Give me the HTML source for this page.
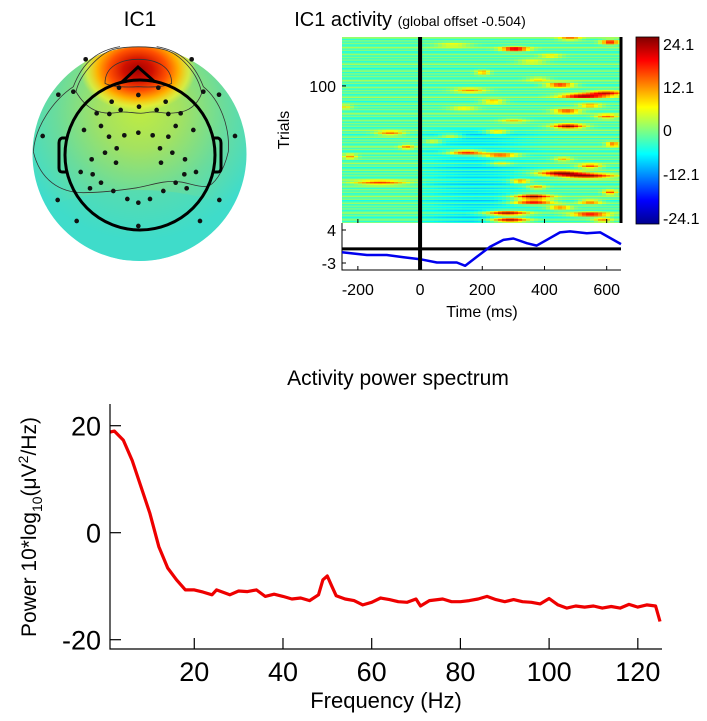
<!DOCTYPE html>
<html><head><meta charset="utf-8"><style>
html,body{margin:0;padding:0;background:#fff;}
svg{display:block;font-family:"Liberation Sans",Arial,sans-serif;}
</style></head><body>
<svg id="fig" width="707" height="721" viewBox="0 0 707 721">
<defs>
<radialGradient id="scalpBase" cx="140" cy="110" r="130" gradientUnits="userSpaceOnUse">
<stop offset="0" stop-color="#c0ec40"/><stop offset="0.3" stop-color="#a4e260"/><stop offset="0.65" stop-color="#6adc9c"/><stop offset="1" stop-color="#3edccc"/>
</radialGradient>
<radialGradient id="redBlob" cx="138" cy="70" r="58" gradientUnits="userSpaceOnUse" gradientTransform="translate(138 70) scale(1 0.72) translate(-138 -70)">
<stop offset="0" stop-color="#a00000"/><stop offset="0.25" stop-color="#d01000"/><stop offset="0.5" stop-color="#ff5000"/><stop offset="0.7" stop-color="#ffb000"/><stop offset="0.88" stop-color="#f0f030" stop-opacity="0.7"/><stop offset="1" stop-color="#f0f030" stop-opacity="0"/>
</radialGradient>
<linearGradient id="jet" x1="0" y1="1" x2="0" y2="0">
<stop offset="0" stop-color="#00008f"/><stop offset="0.125" stop-color="#0000ff"/><stop offset="0.375" stop-color="#00ffff"/><stop offset="0.5" stop-color="#80ff80"/><stop offset="0.625" stop-color="#ffff00"/><stop offset="0.875" stop-color="#ff0000"/><stop offset="1" stop-color="#800000"/>
</linearGradient>
<clipPath id="discClip"><circle cx="139.5" cy="154" r="107"/></clipPath>
</defs>

<!-- Topomap -->
<text x="140" y="26" font-size="21" text-anchor="middle">IC1</text>
<g>
<circle cx="139.5" cy="154" r="107" fill="url(#scalpBase)"/>
<g clip-path="url(#discClip)">
<ellipse cx="139.5" cy="250" rx="130" ry="60" fill="#40dcc8" opacity="0.5"/>
<ellipse cx="138" cy="72" rx="65" ry="48" fill="url(#redBlob)"/>
</g>
<g transform="scale(0.33333)" fill="none" stroke="#333" stroke-width="2.4">
<path d="M228,275 C240,220 300,160 340,148 C380,138 450,138 490,148 C540,160 595,220 605,280 C590,320 560,335 530,338 C490,345 470,330 440,338 C410,345 380,330 350,338 C300,345 260,330 228,275 Z"/>
<path d="M315,250 C315,200 360,178 415,178 C470,178 515,200 515,250 C490,262 450,262 415,260 C380,262 340,262 315,250 Z"/>
<path d="M100,455 C105,380 160,300 220,260 C250,180 300,150 360,140 M470,140 C530,150 580,180 610,260 C660,300 690,380 685,455 C670,520 640,555 620,560 C580,560 560,545 530,545 C490,540 440,560 400,565 C350,572 300,578 250,578 C180,578 120,540 100,455"/>
</g>
<g transform="scale(0.33333)" fill="#111">
<circle cx="257" cy="178" r="7"/><circle cx="575" cy="178" r="7"/><circle cx="175" cy="284" r="7"/><circle cx="220" cy="275" r="7"/><circle cx="357" cy="263" r="7"/><circle cx="415" cy="285" r="7"/><circle cx="475" cy="263" r="7"/><circle cx="610" cy="275" r="7"/><circle cx="657" cy="284" r="7"/>
<circle cx="335" cy="305" r="7"/><circle cx="497" cy="305" r="7"/><circle cx="417" cy="320" r="7"/><circle cx="362" cy="330" r="7"/><circle cx="470" cy="330" r="7"/>
<circle cx="290" cy="340" r="7"/><circle cx="328" cy="342" r="7"/><circle cx="505" cy="342" r="7"/><circle cx="542" cy="340" r="7"/>
<circle cx="303" cy="378" r="7"/><circle cx="527" cy="378" r="7"/><circle cx="252" cy="390" r="7"/><circle cx="580" cy="390" r="7"/>
<circle cx="415" cy="398" r="7"/><circle cx="373" cy="406" r="7"/><circle cx="458" cy="406" r="7"/><circle cx="128" cy="408" r="7"/><circle cx="327" cy="410" r="7"/><circle cx="505" cy="410" r="7"/><circle cx="705" cy="408" r="7"/>
<circle cx="350" cy="445" r="7"/><circle cx="480" cy="445" r="7"/><circle cx="315" cy="458" r="7"/><circle cx="517" cy="458" r="7"/>
<circle cx="275" cy="478" r="7"/><circle cx="555" cy="478" r="7"/><circle cx="348" cy="488" r="7"/><circle cx="483" cy="488" r="7"/>
<circle cx="242" cy="516" r="7"/><circle cx="588" cy="516" r="7"/><circle cx="278" cy="523" r="7"/><circle cx="553" cy="523" r="7"/>
<circle cx="303" cy="548" r="7"/><circle cx="527" cy="548" r="7"/><circle cx="270" cy="565" r="7"/><circle cx="560" cy="565" r="7"/>
<circle cx="340" cy="573" r="7"/><circle cx="490" cy="573" r="7"/><circle cx="382" cy="597" r="7"/><circle cx="450" cy="597" r="7"/><circle cx="415" cy="608" r="7"/>
<circle cx="173" cy="600" r="7"/><circle cx="658" cy="600" r="7"/><circle cx="230" cy="663" r="7"/><circle cx="600" cy="663" r="7"/><circle cx="415" cy="678" r="7"/>
</g>
<g fill="none" stroke="#000" stroke-width="3">
<circle cx="140" cy="155" r="75"/>
<path d="M122,82 L138,67 L155,82"/>
<path d="M66,138 L62,138 Q59,139 59,143 L59,168 Q59,172 62,172 L66,172"/>
<path d="M214,138 L218,138 Q221,139 221,143 L221,168 Q221,172 218,172 L214,172"/>
</g>
</g>

<!-- ERP image -->
<text x="410" y="26" font-size="20" text-anchor="middle">IC1 activity <tspan font-size="14">(global offset -0.504)</tspan></text>
<g id="erpimg"></g>
<g id="erpline"></g>
<text transform="translate(289,130) rotate(-90)" font-size="16" text-anchor="middle">Trials</text>
<text x="482" y="317" font-size="16" text-anchor="middle">Time (ms)</text>

<!-- colorbar -->
<g>
<rect x="636" y="37" width="23" height="187" fill="url(#jet)" stroke="#000" stroke-width="0.8"/>
<g font-size="16">
<text x="663" y="50">24.1</text>
<text x="663" y="93">12.1</text>
<text x="663" y="136">0</text>
<text x="663" y="180">-12.1</text>
<text x="663" y="224">-24.1</text>
</g>
</g>

<!-- spectrum -->
<text x="398" y="385" font-size="21" text-anchor="middle">Activity power spectrum</text>
<text transform="translate(36,527) rotate(-90)" font-size="21" text-anchor="middle">Power 10*log<tspan font-size="14" dy="6">10</tspan><tspan dy="-6">(μV</tspan><tspan font-size="14" dy="-8">2</tspan><tspan dy="8">/Hz)</tspan></text>
<text x="386" y="708" font-size="22" text-anchor="middle">Frequency (Hz)</text>
<g id="spec"></g>
</svg>

<script>
// ===== Spectrum data =====
const specFreq = [1,2,4,6,8,10,12,14,16,18,20,22,24,25,28,30,32,34,36,38,40,42,44,46,48,49,50,51,52,54,56,58,60,62,64,66,68,70,71,73,76,78,80,82,84,86,88,90,92,94,96,98,100,102,104,106,108,110,112,114,116,118,120,122,124,125];
const specPower = [18.8,19,17.3,13.5,8.6,3.6,-2.6,-6.6,-8.8,-10.7,-10.7,-11.1,-11.6,-10.7,-11.6,-10.9,-11,-10.7,-11.9,-11.5,-11.9,-12.4,-12.2,-12.7,-11.6,-8.8,-8.1,-10,-11.8,-12.4,-12.7,-13.5,-13,-12.2,-12.5,-12.9,-13,-12.4,-13.7,-12.7,-12.4,-12.9,-12.9,-12.7,-12.4,-11.9,-12.5,-12.9,-12.5,-12.9,-13,-13.3,-12.3,-13.5,-14.1,-13.7,-13.9,-13.7,-14.1,-13.8,-14.1,-13.4,-13.9,-13.5,-13.7,-16.6];
const specXTicks = [20,40,60,80,100,120];
const specYTicks = [20,0,-20];

// ===== ERP trace data =====
const erpTime = [-251,-171,-107,-53,0,54,118,145,182,225,268,300,343,375,407,450,482,536,579,622,646];
const erpAmp = [-0.74,-1.3,-1.3,-1.8,-2.2,-2.9,-2.9,-3.6,-1.7,0.46,1.9,2.2,1.2,0.7,1.9,3.5,3.7,3.3,3.5,1.9,1.0];
const erpXTicks = [-200,0,200,400,600];
const erpYTicks = [4,-3];
const trialTicks = [100];

// ===== ERP image data: blobs [trial, centre ms, half-width ms, amplitude] =====
const blobTrial = [135,132,127,130,110,101,93,95,97,89,82,86,78,71,67,66,56,60,52,50,49,47,58,42,37,35,30,31,27,23,20,16,16,12,8,7,3,3,85,84,118,122,75,64,44,105];
const blobTime  = [482,611,305,106,202,450,524,601,161,235,472,547,601,476,247,-96,-42,42,151,257,-225,460,620,547,450,537,-129,322,376,611,363,363,547,450,280,547,289,588,-240,140,360,420,300,100,260,380];
const blobWidth = [25,20,30,40,15,30,50,40,35,25,30,25,25,35,25,30,15,20,40,40,15,20,15,25,50,60,60,20,20,15,40,45,25,25,45,40,40,20,15,30,30,25,30,25,25,25];
const blobAmp   = [12,20,22,8,12,20,24,20,12,12,18,12,14,24,12,14,12,8,22,20,12,10,16,16,24,24,16,14,12,16,24,22,14,14,24,20,24,12,8,8,8,8,8,8,8,8];
const rowPattern = [-3,0,-4,1,-2,-5,0,-3,2,-2,-4,0];
const nTrials = 135, tMin = -251, tMax = 646, cRange = 24.1;

const NS = 'http://www.w3.org/2000/svg';
function mk(tag, attrs, parent){const e=document.createElementNS(NS,tag);for(const k in attrs)e.setAttribute(k,attrs[k]);parent.appendChild(e);return e;}

// spectrum axes
const sx = f => 110 + (f-1)*(660-110)/(125-1);
const sy = p => 532.7 - p*5.35;
const spec = document.getElementById('spec');
let d='';
specFreq.forEach((f,i)=>{d+=(i?'L':'M')+sx(f).toFixed(1)+','+sy(specPower[i]).toFixed(1);});
const sl = mk('path',{d:d,fill:'none',stroke:'#ee0000','stroke-width':3.2,'stroke-linejoin':'round'},spec);


const ax = mk('path',{d:'M110,404 L110,649 L662,649',fill:'none',stroke:'#000','stroke-width':1.2},spec);


specXTicks.forEach(t=>{
  const x=sx(t);
  mk('line',{x1:x,y1:649,x2:x,y2:638,stroke:'#000','stroke-width':1.2},spec);
  const tx=mk('text',{x:x,y:681,'font-size':27,'text-anchor':'middle'},spec);tx.textContent=t;
  
  
});
specYTicks.forEach(t=>{
  const y=sy(t);
  mk('line',{x1:110,y1:y,x2:121,y2:y,stroke:'#000','stroke-width':1.2},spec);
  const tx=mk('text',{x:101,y:y+10,'font-size':27,'text-anchor':'end'},spec);tx.textContent=t;
  
  
});

// jet colormap
function jet(v){
  let t=(v+cRange)/(2*cRange);t=Math.max(0,Math.min(1,t));
  const c=x=>Math.max(0,Math.min(1,1.5-Math.abs(4*t-x)));
  return 'rgb('+Math.round(255*c(3))+','+Math.round(255*c(2))+','+Math.round(255*c(1))+')';
}
// ERP image
const ex = ms => 342 + (ms-tMin)*(621-342)/(tMax-tMin);
const img = document.getElementById('erpimg');
const cw = 4, nCols = Math.ceil((621-342)/cw);
const rh = 186/nTrials;
for(let r=1;r<=nTrials;r++){
  const base = rowPattern[r%rowPattern.length];
  for(let c=0;c<nCols;c++){
    const x0=342+c*cw, w=Math.min(cw,621-x0);
    const ms = tMin + (x0+w/2-342)*(tMax-tMin)/(621-342);
    let v = base;
    if(ms>0 && r<70) v -= 4*Math.exp(-Math.pow((ms-180)/180,2));
    for(let b=0;b<blobTrial.length;b++){
      const dt=(ms-blobTime[b])/blobWidth[b], dr=(r-blobTrial[b])/1.2;
      if(Math.abs(dt)<3 && Math.abs(dr)<3) v += blobAmp[b]*Math.exp(-0.5*(dt*dt+dr*dr));
    }
    const cell = mk('rect',{x:x0,y:(223-r*rh).toFixed(2),width:w,height:(rh+0.4).toFixed(2),fill:jet(v)},img);
    
    
  }
}
mk('line',{x1:621,y1:37,x2:621,y2:223,stroke:'#000','stroke-width':3},img);
trialTicks.forEach(t=>{
  const y=223-(t-0.5)*rh;
  mk('line',{x1:342,y1:y,x2:346,y2:y,stroke:'#000'},img);
  const tx=mk('text',{x:336,y:y+6,'font-size':16,'text-anchor':'end'},img);tx.textContent=t;
  
  
});
// ERP trace
const ey = a => 230 + (4-a)*(263-230)/7;
const el = document.getElementById('erpline');
mk('rect',{x:342,y:223,width:279,height:47,fill:'#fff'},el);
mk('path',{d:'M342,223 L342,270 L621,270',fill:'none',stroke:'#000','stroke-width':1},el);
let d2='';
erpTime.forEach((t,i)=>{d2+=(i?'L':'M')+ex(t).toFixed(1)+','+ey(erpAmp[i]).toFixed(1);});
mk('line',{x1:342,y1:ey(0),x2:621,y2:ey(0),stroke:'#000','stroke-width':3},el);
const tl = mk('path',{d:d2,fill:'none',stroke:'#0000ee','stroke-width':2.5,'stroke-linejoin':'round'},el);


mk('line',{x1:ex(0),y1:37,x2:ex(0),y2:270,stroke:'#000','stroke-width':4},el);
erpXTicks.forEach(t=>{
  const x=ex(t);
  mk('line',{x1:x,y1:270,x2:x,y2:266,stroke:'#000'},el);
  mk('line',{x1:x,y1:223,x2:x,y2:219,stroke:'#000'},el);
  const tx=mk('text',{x:x,y:295,'font-size':16,'text-anchor':'middle'},el);tx.textContent=t;
  
  
});
erpYTicks.forEach(t=>{
  const y=ey(t);
  mk('line',{x1:342,y1:y,x2:346,y2:y,stroke:'#000'},el);
  const tx=mk('text',{x:336,y:y+6,'font-size':16,'text-anchor':'end'},el);tx.textContent=t;
  
  
});
</script>
</body></html>
